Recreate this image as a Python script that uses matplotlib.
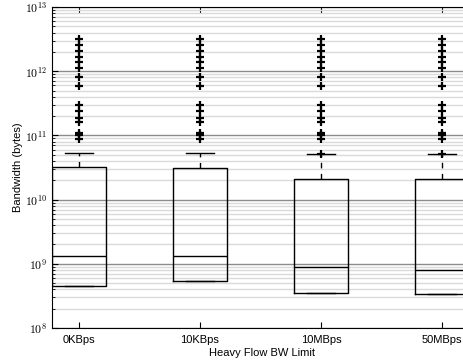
import matplotlib
matplotlib.use('Agg')
import matplotlib.pyplot as plt
import numpy as np
from matplotlib.ticker import LogLocator, FuncFormatter, NullFormatter

plt.rcParams['font.family'] = 'Liberation Sans'
plt.rcParams['mathtext.fontset'] = 'cm'

# data
labels = ['0KBps', '10KBps', '10MBps', '50MBps']
q1 = [4.5e8, 5.4e8, 3.55e8, 3.4e8]
med = [1.32e9, 1.32e9, 9.0e8, 8.0e8]
q3 = [3.22e10, 3.1e10, 2.1e10, 2.1e10]
whis_hi = [5.3e10, 5.3e10, 5.1e10, 5.1e10]
fliers_common = [3.16e12, 2.6e12, 2.1e12, 1.65e12, 1.4e12, 1.13e12, 8.1e11,
                 5.9e11, 3.0e11, 2.4e11, 1.9e11, 1.6e11, 1.1e11, 1.02e11, 8.7e10]
fliers_extra = [[], [], [5.1e10], [5.1e10]]

stats = []
for i in range(len(labels)):
    stats.append({'label': labels[i], 'whislo': q1[i], 'q1': q1[i], 'med': med[i],
                  'q3': q3[i], 'whishi': whis_hi[i],
                  'fliers': fliers_common + fliers_extra[i]})

fig = plt.figure(figsize=(4.64, 3.64), dpi=100)
ax = fig.add_axes([52/464, 1-328/364, 420/464, 321/364])

ax.bxp(stats, positions=[1, 2, 3, 4], widths=0.45,
       boxprops=dict(color='black', linewidth=1),
       medianprops=dict(color='black', linewidth=1),
       whiskerprops=dict(color='black', linewidth=1, linestyle=(0, (4, 4))),
       capprops=dict(color='black', linewidth=1),
       flierprops=dict(marker='+', markeredgecolor='black', markersize=5.5, markeredgewidth=1.6))

ax.set_yscale('log')
ax.set_ylim(1e8, 1e13)
ax.set_xlim(1 - 27/121, 1 + (472-79)/121)
ax.yaxis.set_major_locator(LogLocator(base=10, numticks=10))
ax.yaxis.set_minor_locator(LogLocator(base=10, subs=np.arange(2, 10), numticks=20))
ax.yaxis.set_major_formatter(FuncFormatter(lambda v, p: r'$10^{%d}$' % round(np.log10(v))))
ax.yaxis.set_minor_formatter(NullFormatter())
ax.grid(True, which='major', axis='y', color='#8c8c8c', linewidth=1)
ax.grid(True, which='minor', axis='y', color='#dadada', linewidth=1)
ax.set_axisbelow(True)
ax.tick_params(which='both', direction='in', top=True, right=False, labelsize=8)
ax.tick_params(axis='x', pad=5)
ax.tick_params(axis='y', labelsize=8.5)
ax.tick_params(which='major', length=4)
ax.tick_params(which='minor', length=2)
ax.spines['right'].set_visible(False)

ax.set_xticks([1, 2, 3, 4])
ax.set_xticklabels(labels)
ax.set_xlabel('Heavy Flow BW Limit', fontsize=8, labelpad=2)
ax.set_ylabel('Bandwidth (bytes)', fontsize=8, labelpad=1)

fig.savefig('out.png', dpi=100)
